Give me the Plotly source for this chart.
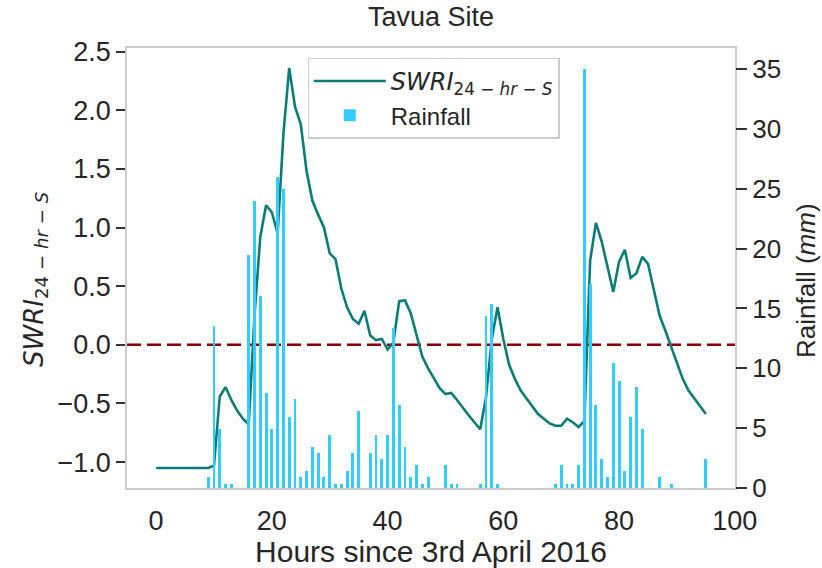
import plotly.graph_objects as go

hours = list(range(96))

swri = [-1.05, -1.05, -1.05, -1.05, -1.05, -1.05, -1.05, -1.05, -1.05, -1.05,
        -1.03, -0.44, -0.36, -0.47, -0.56, -0.63, -0.68, 0.25, 0.92, 1.19,
        1.13, 0.95, 1.80, 2.36, 2.03, 1.88, 1.48, 1.23, 1.11, 1.00,
        0.78, 0.73, 0.48, 0.32, 0.22, 0.18, 0.29, 0.08, 0.04, 0.05,
        -0.04, 0.02, 0.37, 0.38, 0.27, 0.09, -0.10, -0.20, -0.29, -0.37,
        -0.42, -0.41, -0.47, -0.54, -0.60, -0.66, -0.72, -0.45, 0.05, 0.32,
        0.05, -0.17, -0.29, -0.39, -0.46, -0.53, -0.59, -0.63, -0.67, -0.69,
        -0.69, -0.63, -0.66, -0.70, -0.65, 0.72, 1.04, 0.88, 0.66, 0.45,
        0.71, 0.81, 0.57, 0.61, 0.75, 0.69, 0.47, 0.25, 0.12, -0.02,
        -0.16, -0.29, -0.39, -0.46, -0.53, -0.59]

rainfall = [0, 0, 0, 0, 0, 0, 0, 0, 0, 0.9,
            13.5, 4.9, 0.3, 0.3, 0, 0, 19.5, 24.0, 16.0, 7.9,
            4.9, 26.0, 25.0, 5.9, 7.4, 0.9, 1.4, 3.4, 2.9, 0.9,
            4.4, 0.3, 0.3, 1.4, 2.9, 6.4, 0, 2.9, 4.4, 2.4,
            4.4, 13.4, 6.9, 3.4, 0.9, 1.9, 0.3, 0.9, 0, 0,
            1.9, 0.3, 0.3, 0, 0, 0, 0.3, 14.4, 15.4, 0.3,
            0, 0, 0, 0, 0, 0, 0, 0, 0, 0.3,
            1.9, 0.3, 0.3, 1.9, 35.0, 17.0, 6.9, 2.4, 0.9, 10.4,
            8.9, 1.4, 5.9, 8.4, 4.9, 0, 0, 0.9, 0, 0.3,
            0, 0, 0, 0, 0, 2.4]

x_ticks = [0, 20, 40, 60, 80, 100]
y_ticks = [-1.0, -0.5, 0.0, 0.5, 1.0, 1.5, 2.0, 2.5]
y2_ticks = [0, 5, 10, 15, 20, 25, 30, 35]

TEAL = "#0b7d78"
BLUE = "#33ccff"
DARKRED = "#8b0000"
FRAME = "#cccccc"
TXT = "#262626"
FONT = "Liberation Sans, Arial, sans-serif"

swri_label = ("<span style='font-family:DejaVu Sans'><i>SWRI</i>"
              "<sub>24 − <i>hr</i> − <i>S</i></sub></span>")

fig = go.Figure()
fig.add_trace(go.Scatter(x=hours, y=swri, mode="lines", name=swri_label,
                         line=dict(color=TEAL, width=2.6), yaxis="y"))
fig.add_trace(go.Bar(x=hours, y=rainfall, width=0.5, name="Rainfall",
                     marker=dict(color=BLUE, line=dict(width=0)), yaxis="y2"))

fig.add_shape(type="line", xref="paper", yref="y", x0=0, x1=1, y0=0, y1=0,
              line=dict(color=DARKRED, width=2.5, dash="14px,6px"), layer="below")

# axis titles placed as rotated annotations
fig.add_annotation(text=swri_label, textangle=-90, xref="paper", yref="paper",
                   x=(35 - 127) / 608, y=(488 - 280) / 440, xanchor="center", yanchor="middle",
                   showarrow=False, font=dict(size=26, color=TXT))
fig.add_annotation(text="Rainfall (<i>mm</i>)", textangle=-90, xref="paper", yref="paper",
                   x=(806 - 127) / 608, y=(488 - 281) / 440, xanchor="center", yanchor="middle",
                   showarrow=False, font=dict(size=26, color=TXT, family=FONT))

fig.update_layout(
    width=822, height=568,
    margin=dict(l=127, r=87, t=48, b=80, autoexpand=False),
    paper_bgcolor="white", plot_bgcolor="white",
    font=dict(family=FONT, color=TXT, size=24),
    showlegend=True,
    bargap=0,
    title=dict(text="Tavua Site", x=0.5, xref="paper", xanchor="center",
               y=1 - 17 / 568, yref="container", yanchor="middle",
               font=dict(size=27, color=TXT, family=FONT)),
    xaxis=dict(range=[-5.03, 100.03], tickvals=x_ticks, ticks="",
               showline=True, linecolor=FRAME, linewidth=1.5, mirror=True,
               showgrid=False, zeroline=False, ticklabelstandoff=8, automargin=False,
               tickfont=dict(size=27, color=TXT, family=FONT),
               title=dict(text="Hours since 3rd April 2016", standoff=4,
                          font=dict(size=30, color=TXT, family=FONT))),
    yaxis=dict(range=[-1.2205, 2.5305], tickvals=y_ticks, tickformat=".1f",
               ticks="outside", ticklen=9, tickwidth=1.5, tickcolor="#333333",
               showline=True, linecolor=FRAME, linewidth=1.5, mirror=True,
               showgrid=False, zeroline=False, automargin=False,
               tickfont=dict(size=27, color=TXT, family=FONT)),
    yaxis2=dict(range=[0, 36.75], tickvals=y2_ticks, overlaying="y", side="right",
                ticks="outside", ticklen=11, tickwidth=1.5, tickcolor="#333333",
                showline=False, showgrid=False, zeroline=False, automargin=False,
                tickfont=dict(size=26, color=TXT, family=FONT)),
    legend=dict(x=0.297, y=0.978, xanchor="left", yanchor="top",
                bgcolor="rgba(255,255,255,0.85)", bordercolor=FRAME, borderwidth=1.2,
                font=dict(size=24, color=TXT, family=FONT),
                tracegroupgap=4, itemwidth=72),
)

fig.write_html("out.html")
